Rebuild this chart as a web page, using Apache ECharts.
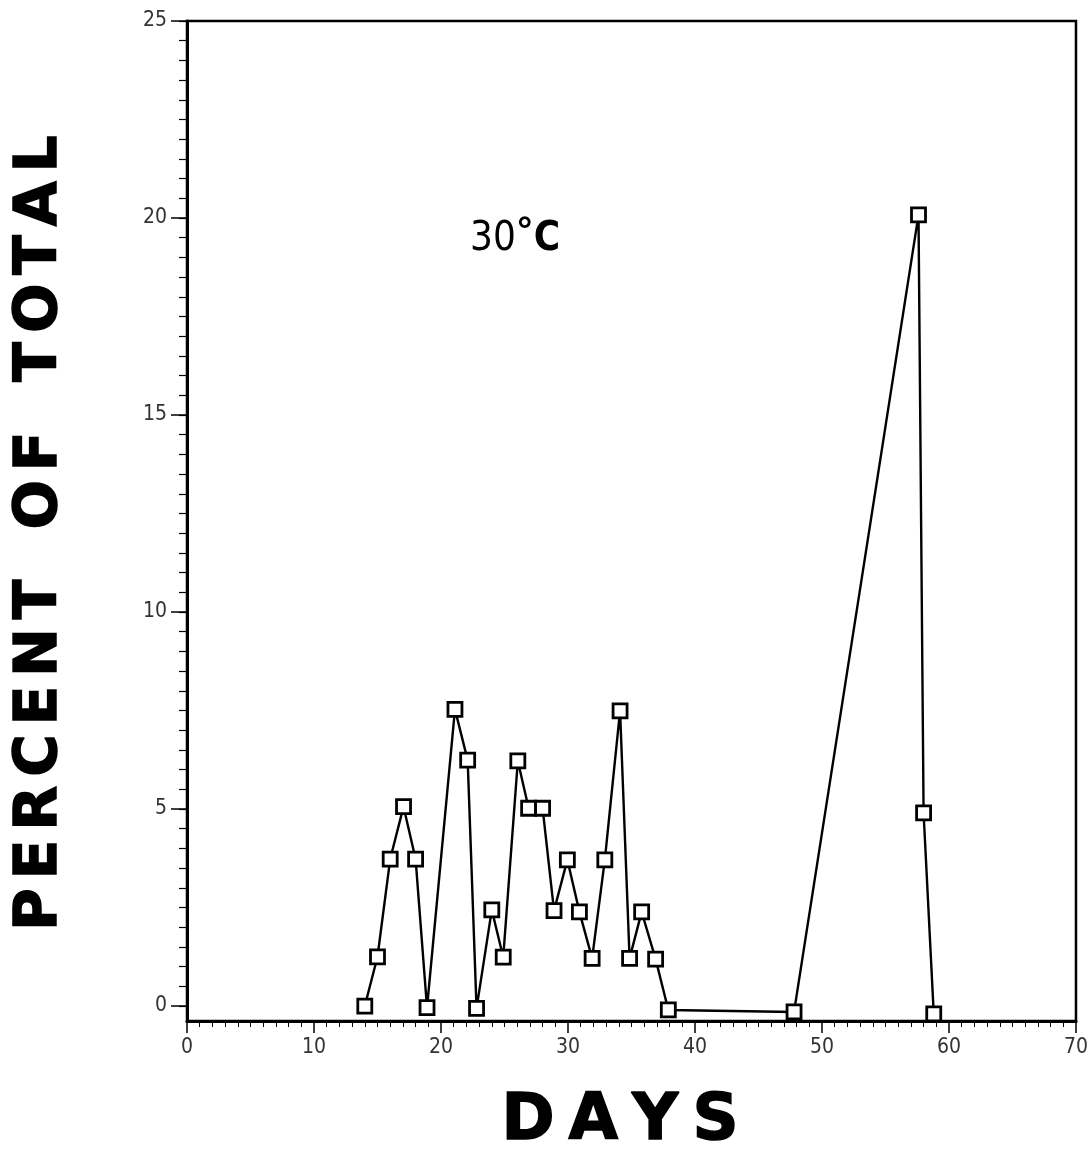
<!DOCTYPE html>
<html>
<head>
<meta charset="utf-8">
<script src="https://cdn.jsdelivr.net/npm/echarts@6/dist/echarts.min.js"></script>
<style>
html,body{margin:0;padding:0;background:#fff;}
#chart{width:1091px;height:1174px;}
</style>
</head>
<body>
<div id="chart"></div>
<script>
const days = [14, 15, 16, 17.05, 18, 18.9, 21.1, 22.1, 22.8, 24, 24.9, 26.05, 26.9, 28, 28.9, 29.95, 30.9, 31.9, 32.9, 34.1, 34.85, 35.8, 36.9, 37.9, 47.8, 57.6, 58.0, 58.8];
const percent = [0, 1.25, 3.73, 5.06, 3.73, -0.04, 7.53, 6.24, -0.06, 2.44, 1.24, 6.22, 5.02, 5.02, 2.42, 3.71, 2.39, 1.21, 3.71, 7.49, 1.21, 2.39, 1.19, -0.1, -0.15, 20.08, 4.9, -0.2];
const yMajorTicks = [0, 5, 10, 15, 20, 25];
const yMinorTicks = [];
for (let v = 0; v <= 25; v += 0.5) yMinorTicks.push(v);
const xTickLabels = ['0', '10', '20', '30', '40', '50', '60', '70'];
const yTitle = 'PERCENT OF TOTAL';
const xTitle = 'DAYS';
const tempLabel = ['30', '°', 'C'];

function spaced(str) {
  return str.split('').map(ch => ch === ' ' ? '{w| }' : '{l|' + ch + '}').join('');
}

const chart = echarts.init(document.getElementById('chart'));
const labelFont = '"Liberation Sans Narrow", "DejaVu Sans Condensed", "DejaVu Sans", sans-serif';
const heavy = '"DejaVu Sans", sans-serif';
chart.setOption({
  animation: false,
  backgroundColor: '#fff',
  grid: {
    left: 187, right: 14, top: 21, bottom: 153,
    show: true, borderColor: '#000', borderWidth: 2.5, backgroundColor: 'transparent'
  },
  xAxis: {
    type: 'value', min: 0, max: 70, interval: 10,
    axisLine: { show: true, onZero: false, lineStyle: { color: '#000', width: 3 } },
    axisTick: { show: true, length: 12, lineStyle: { color: '#000', width: 1.5 } },
    minorTick: { show: true, splitNumber: 10, length: 6, lineStyle: { color: '#000', width: 1 } },
    splitLine: { show: false },
    axisLabel: {
      margin: 16, color: '#333', fontSize: 21, fontFamily: labelFont,
      formatter: (v) => xTickLabels[Math.round(v / 10)] || ''
    }
  },
  yAxis: [{
    type: 'value', min: -0.38, max: 25,
    axisLine: { show: true, onZero: false, lineStyle: { color: '#000', width: 3 } },
    axisTick: { show: true, length: 16, customValues: yMajorTicks, lineStyle: { color: '#000', width: 1.5 } },
    axisLabel: { show: true, customValues: yMajorTicks, margin: 20, color: '#333', fontSize: 21, fontFamily: labelFont },
    splitLine: { show: false }
  }, {
    type: 'value', min: -0.38, max: 25, position: 'left',
    axisLine: { show: false, onZero: false },
    axisTick: { show: true, length: 8, customValues: yMinorTicks, lineStyle: { color: '#000', width: 1.2 } },
    axisLabel: { show: false },
    splitLine: { show: false }
  }],
  series: [{
    type: 'line',
    data: days.map((d, i) => [d, percent[i]]),
    clip: false,
    symbol: 'rect', symbolSize: 14,
    itemStyle: { color: '#fff', borderColor: '#000', borderWidth: 2.8 },
    lineStyle: { color: '#000', width: 2.4 },
    z: 5
  }],
  graphic: [
    {
      type: 'text', x: 41, y: 533, rotation: Math.PI / 2,
      style: {
        text: spaced(yTitle),
        align: 'center', verticalAlign: 'middle',
        fill: '#000', stroke: '#000', lineWidth: 1.5,
        rich: {
          l: { fontSize: 58, fontWeight: 'bold', fontFamily: heavy, fill: '#000', stroke: '#000', lineWidth: 1.5, padding: [0, 4.5, 0, 4.5] },
          w: { fontSize: 58, width: 41 }
        }
      }
    },
    {
      type: 'text', x: 620, y: 1122,
      style: {
        text: spaced(xTitle),
        align: 'center', verticalAlign: 'middle',
        fill: '#000', stroke: '#000', lineWidth: 1.5,
        rich: {
          l: { fontSize: 64, fontWeight: 'bold', fontFamily: heavy, fill: '#000', stroke: '#000', lineWidth: 1.5, padding: [0, 7, 0, 7] }
        }
      }
    },
    {
      type: 'text', x: 470, y: 240,
      style: {
        text: '{n|' + tempLabel[0] + '}{d|' + tempLabel[1] + '}{c|' + tempLabel[2] + '}',
        verticalAlign: 'middle',
        fill: '#000',
        rich: {
          n: { fontSize: 40, fontFamily: labelFont, fill: '#000' },
          d: { fontSize: 36, fontWeight: 'bold', fontFamily: heavy, fill: '#000', verticalAlign: 'top', padding: [0, 0, 12, 0] },
          c: { fontSize: 40, fontWeight: 'bold', fontFamily: labelFont, fill: '#000' }
        }
      }
    }
  ]
});
</script>
</body>
</html>
